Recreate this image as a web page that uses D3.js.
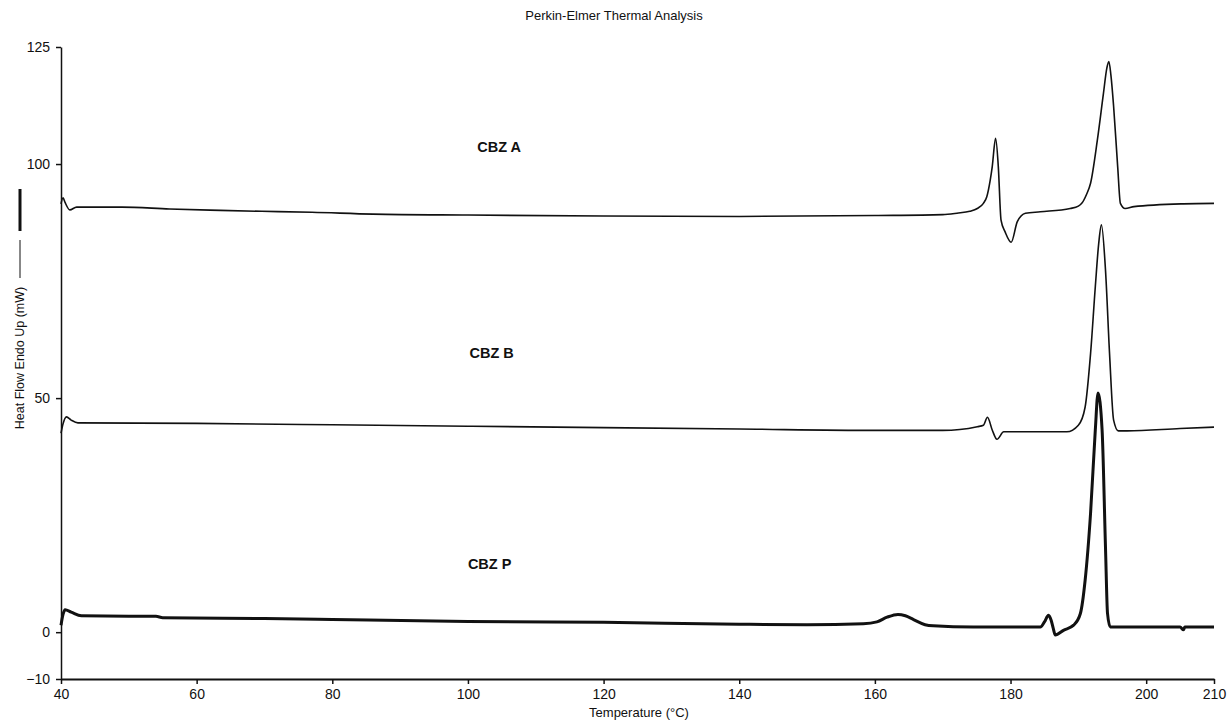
<!DOCTYPE html>
<html>
<head>
<meta charset="utf-8">
<script src="https://cdn.jsdelivr.net/npm/d3@7"></script>
<style>
  html, body { margin: 0; padding: 0; background: #fff; }
  svg text { font-family: Arial, "Liberation Sans", sans-serif; fill: #111; }
</style>
</head>
<body>
<svg id="chart" width="1227" height="721"></svg>
<script>
// ---- Data ----
const chartTitle = "Perkin-Elmer Thermal Analysis";
const xTitle = "Temperature (°C)";
const yTitle = "Heat Flow Endo Up (mW)";
const xTicks = [40, 60, 80, 100, 120, 140, 160, 180, 200, 210];
const yTicks = [-10, 0, 50, 100, 125];
const seriesNames = ["CBZ A", "CBZ B", "CBZ P"];

const tempA = [40, 40.3, 40.6, 41.3, 42.3, 49, 56, 63.5, 69.6, 77, 86, 100, 120, 140, 160, 170, 172.1, 174, 175.1, 176, 176.5, 177, 177.3, 177.8, 178.2, 178.6, 179.2, 180.1, 181.0, 182.2, 184.4, 188.8, 190.0, 190.5, 191.2, 191.8, 192.8, 193.7, 194.2, 194.5, 194.8, 195.2, 195.8, 196.2, 196.9, 198.2, 205.5, 210];
const valA  = [91.5, 92.8, 91.8, 90.2, 90.8, 90.8, 90.4, 90.1, 89.9, 89.7, 89.3, 89.1, 88.9, 88.8, 89.0, 89.2, 89.5, 89.9, 90.5, 91.6, 93.0, 96.5, 99.4, 105.5, 99.4, 88.0, 85.5, 83.3, 87.7, 89.5, 89.8, 90.5, 91.0, 91.6, 93.5, 95.9, 105.1, 115.1, 120.5, 121.9, 119.0, 112.3, 99.4, 91.6, 90.5, 90.9, 91.5, 91.6];

const tempB = [40, 40.3, 40.8, 41.5, 42.5, 60, 80, 100, 120, 140, 160, 170, 175.1, 176, 176.6, 177.3, 178.0, 179.0, 188.3, 190.0, 191.0, 191.8, 192.5, 193.0, 193.4, 194.0, 194.6, 195.2, 195.9, 197.2, 205, 210];
const valB  = [42.5, 44.5, 46.0, 45.3, 44.7, 44.6, 44.3, 44.0, 43.7, 43.4, 43.1, 43.1, 43.9, 44.2, 45.9, 43.2, 41.2, 42.8, 42.8, 44.2, 48.1, 59.5, 73.8, 83.0, 87.0, 77.4, 59.5, 45.3, 43.0, 43.0, 43.5, 43.8];

const tempP = [40, 40.3, 40.6, 41.5, 43, 50, 54, 55, 70, 80, 100, 120, 140, 150, 158.3, 160.3, 161.8, 163.4, 164.5, 165.7, 167.4, 168.6, 174.5, 184.4, 185.0, 185.6, 186.0, 186.3, 186.6, 187.8, 189.3, 190.3, 191.0, 191.8, 192.5, 192.9, 193.5, 194.0, 194.3, 194.7, 205, 205.5, 205.7, 210];
const valP  = [1.5, 3.8, 4.8, 4.3, 3.5, 3.4, 3.4, 3.1, 2.9, 2.7, 2.3, 2.1, 1.7, 1.6, 1.8, 2.2, 3.2, 3.8, 3.5, 2.7, 1.6, 1.35, 1.1, 1.1, 2.2, 3.6, 2.5, 0.8, -0.6, 0.4, 1.5, 4.0, 11.1, 25.4, 43.2, 51.1, 43.2, 18.2, 4.0, 1.1, 1.1, 0.5, 1.1, 1.1];

// label anchor positions in data units
const labelTemp = [104.6, 103.5, 103.2];
const labelVal  = [102.5, 58.6, 13.5];

// ---- Drawing ----
const svg = d3.select("#chart");
const x = d3.scaleLinear().domain([40, 210]).range([61, 1214]);
const y = d3.scaleLinear().domain([-10, 125]).range([679, 47]);

const ink = "#111";
const font = "Arial, 'Liberation Sans', sans-serif";

// title
svg.append("text").attr("x", 614).attr("y", 20).attr("text-anchor", "middle")
  .style("font-size", "13px").text(chartTitle);

// axes
const xAxis = d3.axisBottom(x).tickValues(xTicks).tickSize(5).tickSizeOuter(0).tickFormat(d3.format("d"));
const gx = svg.append("g").attr("transform", "translate(0,679)").call(xAxis);
gx.select(".domain").attr("stroke", ink).attr("stroke-width", 2);
gx.selectAll(".tick line").attr("stroke", ink).attr("stroke-width", 1.5);
gx.selectAll(".tick text").attr("y", 10).attr("dy", "0.71em")
  .style("font-size", "14px").style("font-family", font).attr("fill", ink);

const yAxis = d3.axisLeft(y).tickValues(yTicks).tickSize(5).tickSizeOuter(0).tickFormat(d3.format("d"));
const gy = svg.append("g").attr("transform", "translate(61,0)").call(yAxis);
gy.select(".domain").attr("stroke", ink).attr("stroke-width", 1.5);
gy.selectAll(".tick line").attr("stroke", ink).attr("stroke-width", 1.5);
gy.selectAll(".tick text").attr("x", -11)
  .style("font-size", "14px").style("font-family", font).attr("fill", ink);

// axis titles
svg.append("text").attr("x", 639).attr("y", 717).attr("text-anchor", "middle")
  .style("font-size", "13px").text(xTitle);
svg.append("text").attr("transform", "translate(24,358) rotate(-90)").attr("text-anchor", "middle")
  .style("font-size", "12.5px").text(yTitle);
// legend line marks next to y title
svg.append("line").attr("x1", 20).attr("x2", 20).attr("y1", 240).attr("y2", 278)
  .attr("stroke", ink).attr("stroke-width", 1);
svg.append("line").attr("x1", 20).attr("x2", 20).attr("y1", 189).attr("y2", 231)
  .attr("stroke", ink).attr("stroke-width", 3);

// series
const series = [
  { t: tempA, v: valA, w: 1.6 },
  { t: tempB, v: valB, w: 1.6 },
  { t: tempP, v: valP, w: 3 }
];
const line = d3.line().x(d => x(d[0])).y(d => y(d[1])).curve(d3.curveMonotoneX);
series.forEach(s => {
  svg.append("path")
    .datum(s.t.map((t, i) => [t, s.v[i]]))
    .attr("d", line)
    .attr("fill", "none")
    .attr("stroke", ink)
    .attr("stroke-width", s.w)
    .attr("stroke-linejoin", "round");
});

// series labels
seriesNames.forEach((name, i) => {
  svg.append("text").attr("x", x(labelTemp[i])).attr("y", y(labelVal[i]))
    .attr("text-anchor", "middle")
    .style("font-size", "14.5px").style("font-weight", "bold").text(name);
});
</script>
</body>
</html>
